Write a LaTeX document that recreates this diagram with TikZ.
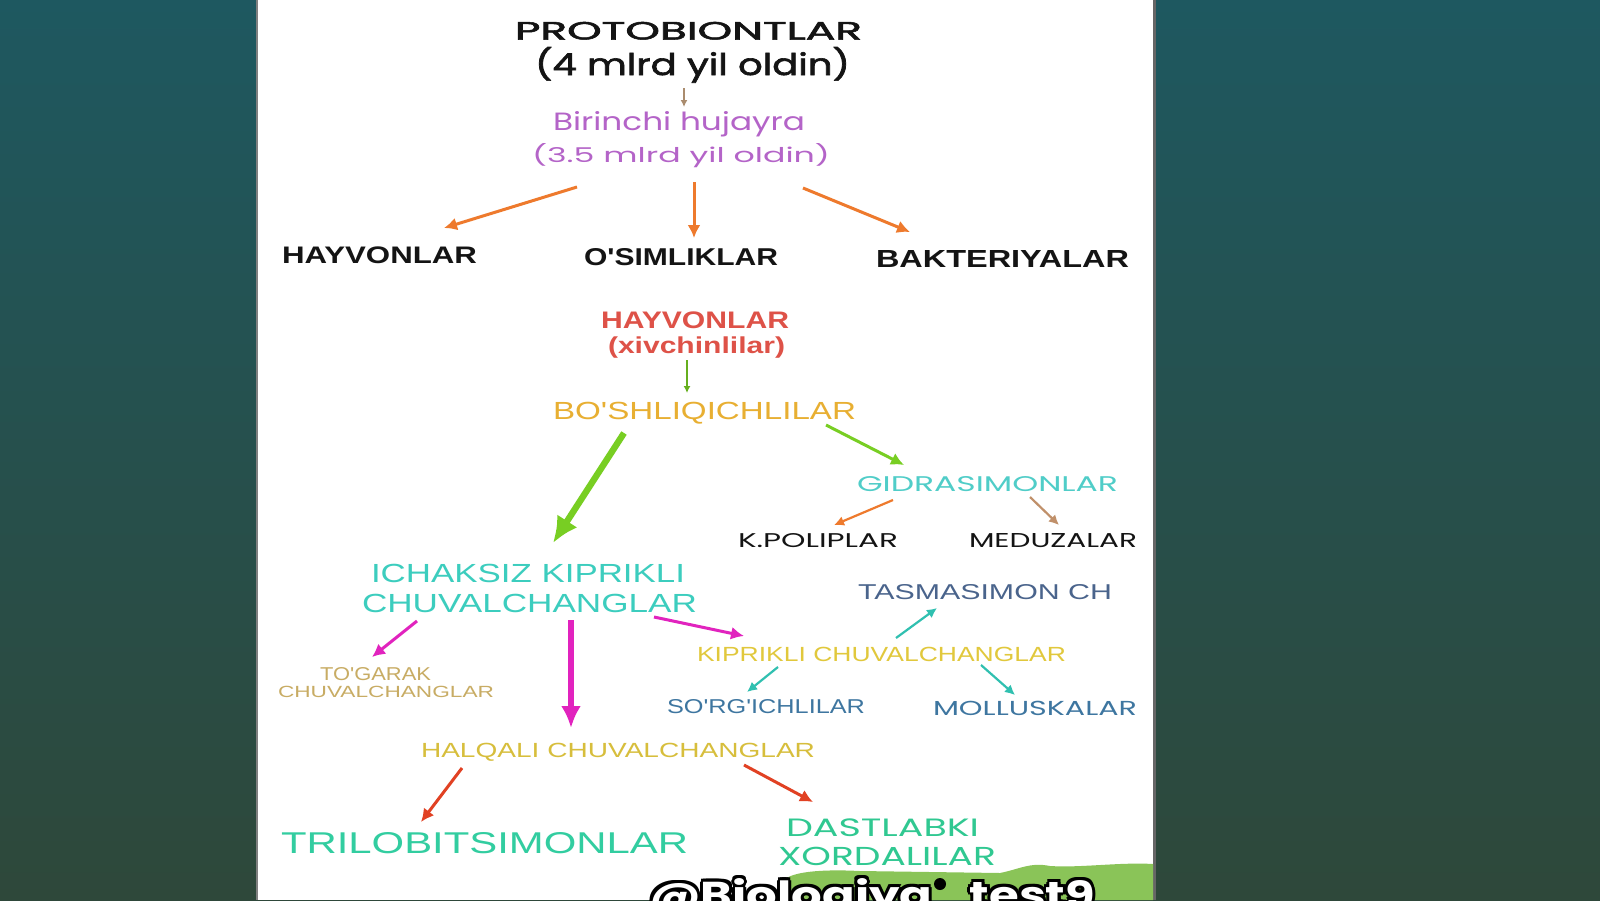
\documentclass[tikz,border=0pt]{standalone}
\usepackage{fontspec}
\setmainfont{Liberation Sans}
\newfontfamily\geo{Poppins}
\newfontfamily\geob{Poppins}[FakeBold=2]
\usetikzlibrary{arrows.meta}
\newlength\pxu \setlength\pxu{0.5pt}
\newcommand\fitt[3]{\resizebox{#1\pxu}{#2\pxu}{#3}}
\definecolor{bgtop}{RGB}{30,88,96}
\definecolor{bgmid}{RGB}{60,96,92}
\definecolor{bgbot}{RGB}{46,72,58}
\definecolor{txtblack}{RGB}{20,20,20}
\definecolor{purp}{RGB}{180,100,200}
\definecolor{orng}{RGB}{238,122,45}
\definecolor{greyarr}{RGB}{170,140,110}
\definecolor{redt}{RGB}{222,82,72}
\definecolor{gold}{RGB}{232,175,50}
\definecolor{grn}{RGB}{120,206,35}
\definecolor{cyant}{RGB}{80,205,200}
\definecolor{turq}{RGB}{60,205,190}
\definecolor{slate}{RGB}{74,100,140}
\definecolor{mag}{RGB}{225,35,190}
\definecolor{tan}{RGB}{200,172,100}
\definecolor{ygold}{RGB}{225,200,60}
\definecolor{teal}{RGB}{48,192,176}
\definecolor{bluet}{RGB}{62,118,160}
\definecolor{hgold}{RGB}{215,190,60}
\definecolor{redarr}{RGB}{225,65,35}
\definecolor{brnarr}{RGB}{192,144,106}
\definecolor{trilg}{RGB}{50,205,160}
\definecolor{dastg}{RGB}{48,200,145}
\definecolor{grass}{RGB}{138,196,88}
\tikzset{
  lbl/.style={anchor=base west, inner sep=0pt, outer sep=0pt},
  thinarr/.style={line width=0.8pt, -{Latex[length=3.5pt,width=3.5pt]}},
  smarr/.style={line width=1.1pt, -{Latex[length=5pt,width=5pt]}},
  medarr/.style={line width=1.5pt, -{Latex[length=6.5pt,width=6.5pt]}},
  bigarr/.style={line width=2.6pt, -{Latex[length=11pt,width=10pt]}},
  hugearr/.style={line width=3.2pt, -{Latex[length=13pt,width=12pt]}},
}
\begin{document}
\begin{tikzpicture}[x=0.5pt,y=-0.5pt]
\useasboundingbox (0,0) rectangle (1600,900);
% background
\shade[top color=bgtop, middle color=bgmid, bottom color=bgbot] (0,0) rectangle (1600,900);
\fill[white] (258,0) rectangle (1153,900);
\fill[black!60] (1153,0) rectangle (1156,900);
\fill[black!50] (256,0) rectangle (258,900);
% grass
\fill[grass] (784,900) -- (784,880) .. controls (792,872) and (820,869) .. (860,871)
  -- (1000,873) .. controls (1020,869) and (1030,862) .. (1050,866)
  .. controls (1080,868) and (1120,862) .. (1153,864) -- (1153,900) -- cycle;

% texts
\node[lbl, text=txtblack, font=\geob] (proto1) at (515,39.5) {\fitt{347}{17.6}{PROTOBIONTLAR}};
\node[lbl, text=txtblack, font=\geob] (proto2) at (535,75) {\fitt{315}{28}{(4 mlrd yil oldin)}};
\node[lbl, text=purp, font=\geo] (hj1) at (553,130) {\fitt{252}{19}{Birinchi hujayra}};
\node[lbl, text=purp, font=\geo] (hj2) at (532,162) {\fitt{298}{19}{(3.5 mlrd yil oldin)}};
\node[lbl, text=txtblack, font=\bfseries] (hay) at (282,263.3) {\fitt{195}{16.7}{HAYVONLAR}};
\node[lbl, text=txtblack, font=\bfseries] (osim) at (584,265) {\fitt{194}{17}{O\textquotesingle SIMLIKLAR}};
\node[lbl, text=txtblack, font=\bfseries] (bakt) at (876,267) {\fitt{253}{17}{BAKTERIYALAR}};
\node[lbl, text=redt, font=\bfseries] (hayx1) at (601,328.3) {\fitt{188}{16.7}{HAYVONLAR}};
\node[lbl, text=redt, font=\bfseries] (hayx2) at (608,353.3) {\fitt{177}{16.7}{(xivchinlilar)}};
\node[lbl, text=gold] (bosh) at (553,419) {\fitt{303}{17.3}{BO\textquotesingle SHLIQICHLILAR}};
\node[lbl, text=cyant, font=\geo] (gid) at (857,491.7) {\fitt{261}{15}{GIDRASIMONLAR}};
\node[lbl, text=txtblack, font=\geo] (kpol) at (738,547) {\fitt{160}{14}{K.POLIPLAR}};
\node[lbl, text=txtblack, font=\geo] (med) at (969,547) {\fitt{168}{14}{MEDUZALAR}};
\node[lbl, text=turq] (ich1) at (371,582) {\fitt{314}{18.3}{ICHAKSIZ KIPRIKLI}};
\node[lbl, text=turq] (ich2) at (362,612) {\fitt{335}{18.3}{CHUVALCHANGLAR}};
\node[lbl, text=slate] (tasm) at (858,599) {\fitt{254}{15}{TASMASIMON CH}};
\node[lbl, text=tan] (tog1) at (320,680) {\fitt{111}{13}{TO\textquotesingle GARAK}};
\node[lbl, text=tan] (tog2) at (278,697) {\fitt{216}{11.3}{CHUVALCHANGLAR}};
\node[lbl, text=ygold] (kip) at (697,661) {\fitt{369}{14.3}{KIPRIKLI CHUVALCHANGLAR}};
\node[lbl, text=bluet] (sorg) at (667,713) {\fitt{198}{14}{SO\textquotesingle RG\textquotesingle ICHLILAR}};
\node[lbl, text=bluet, font=\geo] (moll) at (933,715) {\fitt{204}{14.3}{MOLLUSKALAR}};
\node[lbl, text=hgold] (halq) at (421,757) {\fitt{394}{14.3}{HALQALI CHUVALCHANGLAR}};
\node[lbl, text=trilg] (tril) at (281,853) {\fitt{407}{21}{TRILOBITSIMONLAR}};
\node[lbl, text=dastg, font=\geo] (dast1) at (786,836) {\fitt{193}{17.7}{DASTLABKI}};
\node[lbl, text=dastg, font=\geo] (dast2) at (778,865) {\fitt{218}{18.3}{XORDALILAR}};

% watermark (outlined)
\foreach \dx/\dy [count=\k] in {-3/0,3/0,0/-3,0/3,-2.2/-2.2,2.2/-2.2,-2.2/2.2,2.2/2.2}{
  \node[lbl, text=black, font=\geo\bfseries] (wmo\k) at (649+\dx,908+\dy) {\fitt{446}{30}{@Biologiya\_test9}};
}
\node[lbl, text=white, font=\geo\bfseries] (wm) at (649,908) {\fitt{446}{30}{@Biologiya\_test9}};
\fill[black] (940,884) circle (6);

% connector end points
\coordinate (c1a) at (684,88);   \coordinate (c1b) at (684,107);
\coordinate (c2a) at (577,187);  \coordinate (c2b) at (444,228);
\coordinate (c3a) at (694,182);  \coordinate (c3b) at (694,238);
\coordinate (c4a) at (803,188);  \coordinate (c4b) at (910,232);
\coordinate (c5a) at (687,360);  \coordinate (c5b) at (687,393);
\coordinate (c6a) at (624,433);  \coordinate (c6b) at (553,543);
\coordinate (c7a) at (826,425);  \coordinate (c7b) at (904,465);
\coordinate (c8a) at (893,500);  \coordinate (c8b) at (834,525);
\coordinate (c9a) at (1030,497); \coordinate (c9b) at (1059,525);
\coordinate (c10a) at (417,621); \coordinate (c10b) at (372,657);
\coordinate (c11a) at (571,620); \coordinate (c11b) at (571,728);
\coordinate (c12a) at (654,617); \coordinate (c12b) at (744,636);
\coordinate (c13a) at (896,638); \coordinate (c13b) at (937,608);
\coordinate (c14a) at (778,667); \coordinate (c14b) at (747,692);
\coordinate (c15a) at (981,665); \coordinate (c15b) at (1015,695);
\coordinate (c16a) at (462,768); \coordinate (c16b) at (421,822);
\coordinate (c17a) at (744,765); \coordinate (c17b) at (813,802);

% connectors
\draw[thinarr, greyarr] (c1a) -- (c1b);
\draw[medarr, orng] (c2a) -- (c2b);
\draw[medarr, orng] (c3a) -- (c3b);
\draw[medarr, orng] (c4a) -- (c4b);
\draw[thinarr, grn!85!black] (c5a) -- (c5b);
\draw[hugearr, grn] (c6a) -- (c6b);
\draw[medarr, grn] (c7a) -- (c7b);
\draw[smarr, orng] (c8a) -- (c8b);
\draw[smarr, brnarr] (c9a) -- (c9b);
\draw[medarr, mag] (c10a) -- (c10b);
\draw[bigarr, mag] (c11a) -- (c11b);
\draw[medarr, mag] (c12a) -- (c12b);
\draw[smarr, teal] (c13a) -- (c13b);
\draw[smarr, teal] (c14a) -- (c14b);
\draw[smarr, teal] (c15a) -- (c15b);
\draw[medarr, redarr] (c16a) -- (c16b);
\draw[medarr, redarr] (c17a) -- (c17b);
\end{tikzpicture}
\end{document}
